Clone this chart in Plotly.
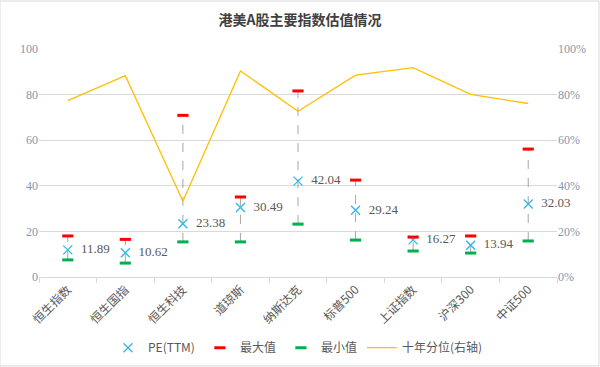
import plotly.graph_objects as go

categories = ["恒生指数", "恒生国指", "恒生科技", "道琼斯", "纳斯达克", "标普500", "上证指数", "沪深300", "中证500"]
pe_ttm = [11.89, 10.62, 23.38, 30.49, 42.04, 29.24, 16.27, 13.94, 32.03]
pe_max = [18.0, 16.5, 70.9, 35.1, 81.6, 42.5, 17.5, 18.0, 56.1]
pe_min = [7.5, 6.1, 15.4, 15.4, 23.2, 16.2, 11.4, 10.5, 15.8]
pct_10y = [0.774, 0.883, 0.332, 0.904, 0.727, 0.885, 0.918, 0.801, 0.761]

cjk = "Noto Sans CJK SC"
serif = "Liberation Serif"
txt = "#595959"
tick_col = "#8497b0"

# dashed range lines (min -> max) per category
vx, vy = [], []
for c, lo, hi in zip(categories, pe_min, pe_max):
    vx += [c, c, None]
    vy += [lo, hi, None]

fig = go.Figure()
fig.add_trace(go.Scatter(x=vx, y=vy, mode="lines", showlegend=False, hoverinfo="skip",
                         line=dict(color="#a6a6a6", width=1, dash="dash")))
fig.add_trace(go.Scatter(x=categories, y=pe_ttm, mode="markers+text", name="PE(TTM)",
                         text=[f"  {v:.2f}" for v in pe_ttm], textposition="middle right",
                         textfont=dict(family=serif, size=13, color=txt), cliponaxis=False,
                         marker=dict(symbol="x-thin", size=9, line=dict(color="#33b5e5", width=1.3))))
fig.add_trace(go.Scatter(x=categories, y=pe_max, mode="markers", name="最大值",
                         marker=dict(symbol="line-ew", size=8, line=dict(color="#ff0000", width=3))))
fig.add_trace(go.Scatter(x=categories, y=pe_min, mode="markers", name="最小值",
                         marker=dict(symbol="line-ew", size=8, line=dict(color="#00b050", width=3))))
fig.add_trace(go.Scatter(x=categories, y=pct_10y, mode="lines", name="十年分位(右轴)", yaxis="y2",
                         line=dict(color="#ffc000", width=1.3)))

fig.update_layout(
    width=600, height=367,
    margin=dict(l=39, r=43, t=49, b=90, autoexpand=False),
    paper_bgcolor="white", plot_bgcolor="white",
    title=dict(text="<b>港美A股主要指数估值情况</b>", x=0.5, xanchor="center", y=0.945, yanchor="middle",
               font=dict(family=cjk, size=14, color="#404040")),
    xaxis=dict(type="category", tickangle=-45, showgrid=False, showline=True, linecolor="#d9d9d9",
               ticks="outside", tickson="boundaries", ticklen=5, tickcolor="#d9d9d9", automargin=False,
               tickfont=dict(family=cjk, size=12, color=txt), range=[-0.5, 8.5]),
    yaxis=dict(range=[0, 100], dtick=20, showgrid=True, gridcolor="#d9d9d9", gridwidth=1, automargin=False,
               zeroline=False, showline=False, tickfont=dict(family=serif, size=12, color=tick_col)),
    yaxis2=dict(range=[0, 1], dtick=0.2, tickformat=".0%", overlaying="y", side="right", automargin=False,
                showgrid=False, zeroline=False, showline=False,
                tickfont=dict(family=serif, size=12, color=tick_col)),
    legend=dict(orientation="h", x=0.5, xanchor="center", y=-0.31, yanchor="middle",
                font=dict(family=cjk, size=12, color=txt), itemwidth=30, traceorder="normal"),
    showlegend=True,
)
fig.add_shape(type="rect", xref="paper", yref="paper", x0=-39/518, x1=1+42/518, y0=-89/228, y1=1+48/228,
              line=dict(color="#d9d9d9", width=1))

fig.write_html("out.html")
